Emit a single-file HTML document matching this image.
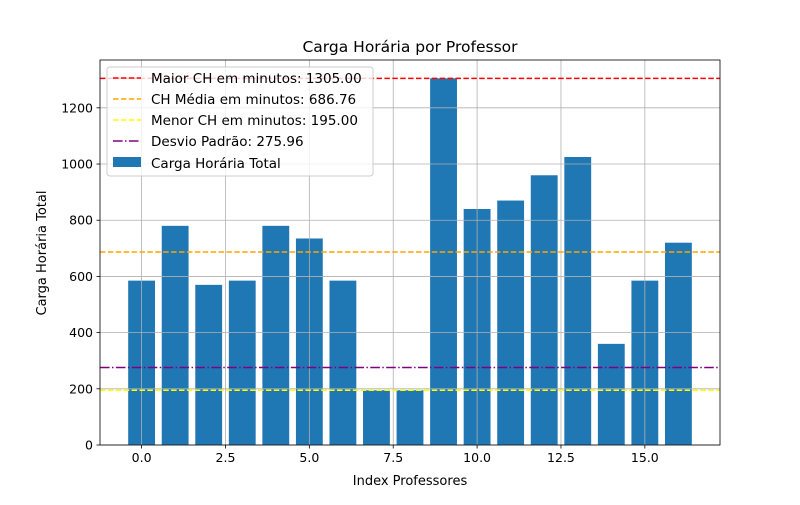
<!DOCTYPE html>
<html><head><meta charset="utf-8"><style>
body{margin:0;background:#fff;font-family:"Liberation Sans","DejaVu Sans",sans-serif}
svg text{font-family:"DejaVu Sans","Liberation Sans",sans-serif}
</style></head><body>
<svg id="chart" width="800" height="500" xmlns="http://www.w3.org/2000/svg"></svg>
<script>
const categories=[0,1,2,3,4,5,6,7,8,9,10,11,12,13,14,15,16];
const values=[585,780,570,585,780,735,585,195,195,1305,840,870,960,1025,360,585,720];
const xTicks=[0,2.5,5,7.5,10,12.5,15];
const xTickLabels=["0.0","2.5","5.0","7.5","10.0","12.5","15.0"];
const yTicks=[0,200,400,600,800,1000,1200];
const refMax=1305.00, refMean=686.76, refMin=195.00, refStd=275.96;

const L=100,R=720,T=60,B=445;
const xmin=-1.24,xmax=17.24,ymin=0,ymax=1370.25;
const X=v=>L+(v-xmin)/(xmax-xmin)*(R-L);
const Y=v=>B-(v-ymin)/(ymax-ymin)*(B-T);
const svg=document.getElementById('chart');
const NS='http://www.w3.org/2000/svg';
function el(tag,attrs,parent){const e=document.createElementNS(NS,tag);for(const k in attrs)e.setAttribute(k,attrs[k]);(parent||svg).appendChild(e);return e;}
function txt(s,attrs){const t=el('text',attrs);t.textContent=s;return t;}

// bars
categories.forEach((c,i)=>{const r=el('rect',{x:X(c-0.4),y:Y(values[i]),width:X(c+0.4)-X(c-0.4),height:Y(0)-Y(values[i]),fill:'#1f77b4'});

});

// grid (drawn above bars)
xTicks.forEach(v=>{const g=el('line',{x1:X(v),x2:X(v),y1:T,y2:B,stroke:'#b0b0b0','stroke-width':0.8});

});
yTicks.forEach(v=>{const g=el('line',{x1:L,x2:R,y1:Y(v),y2:Y(v),stroke:'#b0b0b0','stroke-width':0.8});

});

// reference lines
const refs=[[refMax,'#ff0000','5.5,2.4','max-line'],[refMean,'#ffa500','5.5,2.4','mean-line'],[refMin,'#ffff00','5.5,2.4','min-line'],[refStd,'#800080','9.6,2.4,1.5,2.4','std-line']];
refs.forEach(([v,c,d,n])=>{const l=el('line',{x1:L,x2:R,y1:Y(v),y2:Y(v),stroke:c,'stroke-width':1.5,'stroke-dasharray':d});

});

// axes frame
const fr=el('rect',{x:L,y:T,width:R-L,height:B-T,fill:'none',stroke:'#000','stroke-width':0.8});



xTicks.forEach((v,i)=>{el('line',{x1:X(v),x2:X(v),y1:B,y2:B+3.5,stroke:'#000','stroke-width':0.8});
const t=txt(xTickLabels[i],{x:X(v),y:B+17,'text-anchor':'middle','font-size':12.5,fill:'#000'});

});
yTicks.forEach(v=>{el('line',{x1:L,x2:L-3.5,y1:Y(v),y2:Y(v),stroke:'#000','stroke-width':0.8});
const t=txt(String(v),{x:L-7,y:Y(v)+4.5,'text-anchor':'end','font-size':12.5,fill:'#000'});

});

let t=txt('Carga Horária por Professor',{x:410,y:52,'text-anchor':'middle','font-size':15.5});


t=txt('Index Professores',{x:410,y:485,'text-anchor':'middle','font-size':13});


t=txt('Carga Horária Total',{x:0,y:0,'text-anchor':'middle','font-size':13,transform:'translate(46,253) rotate(-90)'});



// legend
const lg=el('rect',{x:107,y:67,width:266,height:109,fill:'#fff','fill-opacity':0.8,stroke:'#ccc','stroke-width':1,rx:3});


const items=[['Maior CH em minutos: '+refMax.toFixed(2),'#ff0000','5.5,2.4'],['CH Média em minutos: '+refMean.toFixed(2),'#ffa500','5.5,2.4'],['Menor CH em minutos: '+refMin.toFixed(2),'#ffff00','5.5,2.4'],['Desvio Padrão: '+refStd.toFixed(2),'#800080','9.6,2.4,1.5,2.4']];
items.forEach((it,i)=>{const y=78+i*21;
el('line',{x1:113,x2:141,y1:y,y2:y,stroke:it[1],'stroke-width':1.5,'stroke-dasharray':it[2]});
const tt=txt(it[0],{x:151,y:y+5,'font-size':13.5});

});
el('rect',{x:113,y:157,width:28,height:10,fill:'#1f77b4'});
t=txt('Carga Horária Total',{x:151,y:168,'font-size':13.5});


</script>
</body></html>
